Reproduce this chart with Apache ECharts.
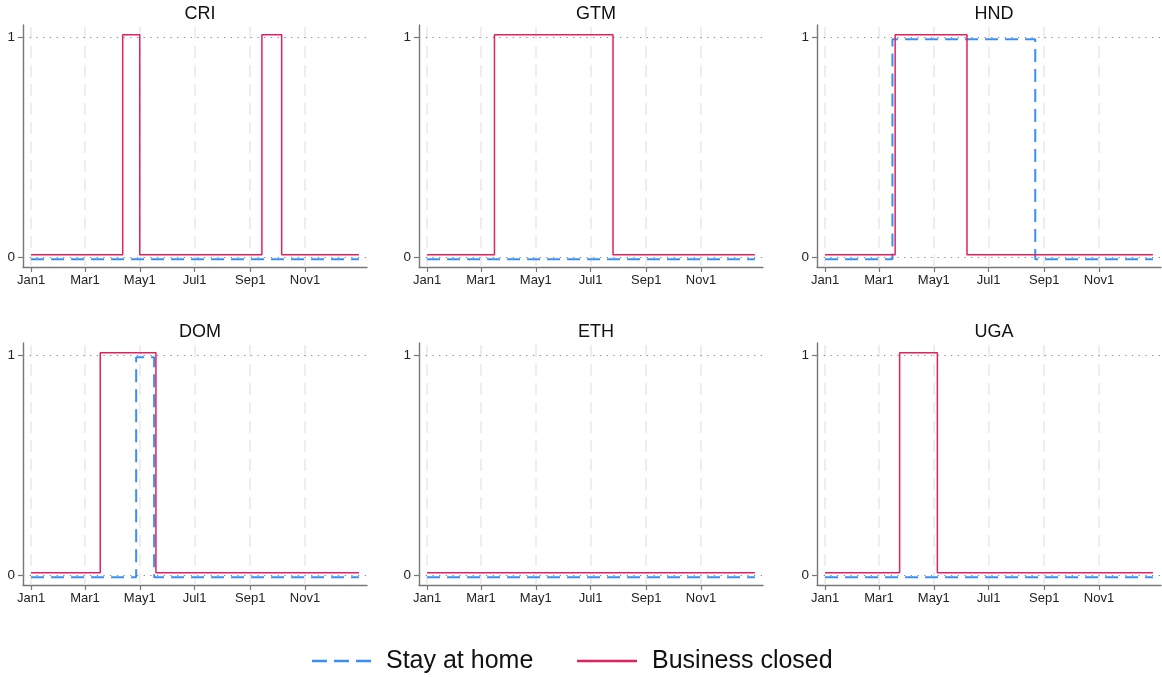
<!DOCTYPE html>
<html>
<head>
<meta charset="utf-8">
<script src="https://cdn.jsdelivr.net/npm/echarts@6/dist/echarts.min.js"></script>
<style>
  html, body { margin: 0; padding: 0; background: #fff; }
  #chart { width: 1162px; height: 677px; }
</style>
</head>
<body>
<div id="chart"></div>
<script>
// Countries, one panel each (row by row)
const countries = ['CRI', 'GTM', 'HND', 'DOM', 'ETH', 'UGA'];

// Periods in 2020 (start, end as MM-DD) during which each measure applied
const stayAtHome = [
  [],
  [],
  [['03-16', '08-22']],
  [['04-27', '05-17']],
  [],
  []
];
const businessClosed = [
  [['04-12', '05-01'], ['09-14', '10-06']],
  [['03-16', '07-26']],
  [['03-19', '06-07']],
  [['03-18', '05-19']],
  [],
  [['03-24', '05-05']]
];

// Policy indicator levels (off / on)
const levels = [0, 1];

// Date axis ticks
const tickDates = ['01-01', '03-01', '05-01', '07-01', '09-01', '11-01'];
const tickLabels = ['Jan1', 'Mar1', 'May1', 'Jul1', 'Sep1', 'Nov1'];
const yearStart = '01-01';
const yearEnd = '12-31';

// Legend entries
const legendNames = ['Stay at home', 'Business closed'];

// ---- helpers ----
const FONT = '"Liberation Sans", Arial, Helvetica, sans-serif';
const BLUE = '#3b8ff3';
const RED = '#e2215f';
const BLUE_DASH = [13, 7];

function dayOf(md) {
  const [m, d] = md.split('-').map(Number);
  return (Date.UTC(2020, m - 1, d) - Date.UTC(2020, 0, 1)) / 86400000;
}

// Step path for an on/off indicator; nudge separates the two overlapping lines
function stepPath(periods, nudge) {
  const lo = levels[0] + nudge, hi = levels[1] + nudge;
  const pts = [[dayOf(yearStart), lo]];
  periods.forEach(([s, e]) => {
    pts.push([dayOf(s), lo], [dayOf(s), hi], [dayOf(e), hi], [dayOf(e), lo]);
  });
  pts.push([dayOf(yearEnd), lo]);
  return pts;
}

const tickDays = tickDates.map(dayOf);

// ---- panel layout ----
const colLeft = [23, 419, 817];
const rowTop = [25, 343];
const panelW = 344, panelH = 242;

const grids = [], xAxes = [], yAxes = [], series = [], titles = [];

countries.forEach((c, i) => {
  const col = i % 3, row = Math.floor(i / 3);
  const left = colLeft[col], top = rowTop[row];
  grids.push({ left: left, top: top, width: panelW, height: panelH, containLabel: false });

  titles.push({
    text: c,
    left: left + panelW / 2,
    top: top - 25,
    textAlign: 'center',
    textStyle: { fontFamily: FONT, fontSize: 18, fontWeight: 'normal', color: '#111' }
  });

  xAxes.push({
    type: 'value', gridIndex: i,
    min: -9, max: 374,
    axisLine: { show: true, onZero: false, lineStyle: { color: '#777', width: 1.4 } },
    axisTick: { show: true, customValues: tickDays, length: 5, lineStyle: { color: '#777', width: 1.2 } },
    axisLabel: {
      customValues: tickDays, margin: 7,
      fontFamily: FONT, fontSize: 13, color: '#222',
      formatter: v => tickLabels[tickDays.indexOf(v)] || ''
    },
    splitLine: { show: false }
  });

  yAxes.push({
    type: 'value', gridIndex: i,
    min: -0.0455, max: 1.0545,
    axisLine: { show: true, onZero: false, lineStyle: { color: '#777', width: 1.4 } },
    axisTick: { show: true, customValues: levels, length: 5, lineStyle: { color: '#777', width: 1.2 } },
    axisLabel: {
      customValues: levels, margin: 8,
      fontFamily: FONT, fontSize: 13.5, color: '#222'
    },
    splitLine: { show: false }
  });

  // background guides: month ticks and the two indicator levels
  series.push({
    type: 'line', xAxisIndex: i, yAxisIndex: i, data: [], silent: true, z: 1,
    markLine: {
      silent: true, symbol: 'none', label: { show: false }, animation: false,
      z: 1,
      data: [
        ...tickDays.map(d => ({ xAxis: d, lineStyle: { color: '#e9e9e9', width: 1.5, type: [12, 7] } })),
        ...levels.map(v => ({ yAxis: v, lineStyle: { color: '#8c8c8c', width: 1.1, type: [1.3, 5.4] } }))
      ]
    }
  });

  series.push({
    name: legendNames[0], type: 'line', xAxisIndex: i, yAxisIndex: i, z: 3,
    symbol: 'none', showSymbol: false,
    lineStyle: { color: BLUE, width: 2, type: BLUE_DASH },
    data: stepPath(stayAtHome[i], -0.01)
  });

  series.push({
    name: legendNames[1], type: 'line', xAxisIndex: i, yAxisIndex: i, z: 4,
    symbol: 'none', showSymbol: false,
    lineStyle: { color: RED, width: 1.5 },
    data: stepPath(businessClosed[i], 0.01)
  });
});

// Legend keys drawn as plain line samples with labels
const legendY = 661;
const legendGraphics = [
  { type: 'line', shape: { x1: 312, y1: legendY, x2: 371, y2: legendY },
    style: { stroke: BLUE, lineWidth: 2.5, lineDash: [15, 7] }, silent: true },
  { type: 'text', x: 386, y: legendY,
    style: { text: legendNames[0], font: '25px ' + FONT, fill: '#111', textVerticalAlign: 'middle', verticalAlign: 'middle' }, silent: true },
  { type: 'line', shape: { x1: 577, y1: legendY, x2: 637, y2: legendY },
    style: { stroke: RED, lineWidth: 2.5 }, silent: true },
  { type: 'text', x: 652, y: legendY,
    style: { text: legendNames[1], font: '25px ' + FONT, fill: '#111', textVerticalAlign: 'middle', verticalAlign: 'middle' }, silent: true }
];

const chart = echarts.init(document.getElementById('chart'), null, { renderer: 'canvas' });
chart.setOption({
  animation: false,
  backgroundColor: '#ffffff',
  title: titles,
  grid: grids,
  xAxis: xAxes,
  yAxis: yAxes,
  graphic: legendGraphics,
  series: series
});
</script>
</body>
</html>
